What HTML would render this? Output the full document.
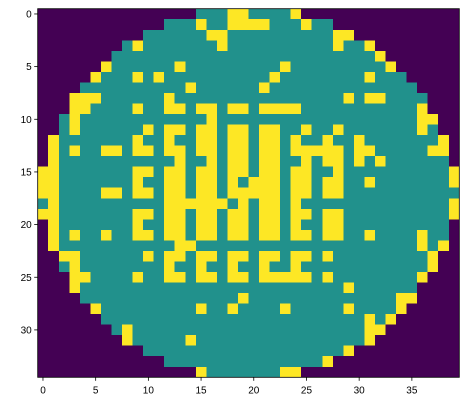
<!DOCTYPE html>
<html><head><meta charset="utf-8"><style>
html,body{margin:0;padding:0;background:#fff;}
svg{display:block;font-family:"Liberation Sans","DejaVu Sans",sans-serif;}
</style></head><body>
<svg id="chart" width="469" height="413" viewBox="0 0 469 413">
<g id="cells"></g>
<g id="axes"></g>
</svg>
<script>
// Row data as run-length pairs: value,count,...
const rowRuns = [
"0,15,1,3,2,2,1,4,2,1,0,15",
"0,12,1,3,2,1,1,2,2,4,1,3,2,1,1,2,0,12",
"0,10,1,6,2,2,1,10,2,2,0,10",
"0,8,1,1,2,1,1,7,2,1,1,10,2,1,1,2,2,1,0,8",
"0,7,1,25,2,1,0,7",
"0,6,2,1,1,6,2,1,1,9,2,1,1,9,2,1,0,6",
"0,5,2,1,1,3,2,1,1,1,2,1,1,10,2,1,1,8,2,1,1,3,0,5",
"0,4,1,10,2,1,1,6,2,1,1,14,0,4",
"0,3,2,3,1,6,2,1,1,16,2,1,1,1,2,2,1,4,0,3",
"0,3,2,2,1,4,2,1,1,2,2,2,1,1,2,2,1,1,2,2,1,1,2,4,1,11,2,1,0,3",
"0,2,1,1,2,1,1,12,2,1,1,19,2,2,0,2",
"0,2,1,1,2,1,1,6,2,1,1,1,2,2,1,1,2,2,1,1,2,2,1,1,2,2,1,2,2,1,1,2,2,1,1,7,2,1,1,1,0,2",
"0,1,2,1,1,7,2,1,1,2,2,1,1,2,2,2,1,1,2,2,1,1,2,2,1,1,2,1,1,2,2,1,1,2,2,1,1,7,2,1,0,1",
"0,1,2,1,1,1,2,1,1,2,2,2,1,1,2,2,1,1,2,2,1,1,2,2,1,1,2,2,1,1,2,2,1,1,2,5,1,1,2,2,1,5,2,2,0,1",
"0,1,2,1,1,11,2,1,1,2,2,1,1,1,2,2,1,1,2,2,1,2,2,1,1,1,2,2,1,1,2,1,1,1,2,1,1,6,0,1",
"2,2,1,7,2,2,1,1,2,2,1,1,2,2,1,1,2,2,1,1,2,2,1,1,2,2,1,2,2,1,1,10,2,1",
"2,2,1,7,2,1,1,2,2,2,1,1,2,2,1,1,2,1,1,1,2,3,1,1,2,2,1,1,2,2,1,2,2,1,1,7,2,1",
"2,2,1,4,2,2,1,1,2,2,1,1,2,2,1,1,2,2,1,1,2,2,2,3,1,1,2,2,1,1,2,2,1,11",
"1,1,2,1,1,10,2,6,1,1,2,1,1,1,2,2,1,1,2,1,1,14,2,1",
"2,2,1,7,2,2,1,1,2,2,1,1,2,2,1,1,2,2,1,1,2,2,1,1,2,2,1,1,2,2,1,10,2,1",
"0,1,2,1,1,7,2,1,1,2,2,2,1,1,2,2,1,1,2,2,1,1,2,2,1,1,2,1,1,2,2,2,1,10,0,1",
"0,1,2,1,1,1,2,1,1,2,2,1,1,2,2,2,1,1,2,2,1,1,2,2,1,1,2,2,1,1,2,2,1,1,2,2,1,1,2,2,1,2,2,1,1,4,2,1,1,2,0,1",
"0,1,2,1,1,11,2,2,1,21,2,1,1,1,2,1,0,1",
"0,2,2,2,1,6,2,1,1,1,2,2,1,1,2,2,1,1,2,2,1,1,2,2,1,1,2,2,1,1,2,1,1,9,2,1,0,2",
"0,2,1,1,2,1,1,8,2,1,1,2,2,1,1,2,2,1,1,2,2,1,1,2,2,1,1,12,2,1,0,2",
"0,3,2,2,1,4,2,1,1,2,2,2,1,1,2,2,1,1,2,2,1,1,2,5,1,1,2,1,1,8,2,1,0,3",
"0,3,2,1,1,25,2,1,1,6,0,4",
"0,4,1,15,2,1,1,14,2,2,0,4",
"0,5,2,1,1,9,2,1,1,2,2,1,1,4,2,1,1,5,2,1,1,4,2,1,0,5",
"0,6,1,25,2,1,1,1,2,1,0,6",
"0,7,1,1,2,1,1,22,2,2,0,7",
"0,8,2,1,1,5,2,1,1,16,2,1,0,8",
"0,10,1,19,2,1,0,10",
"0,12,1,15,2,1,0,12",
"0,15,2,1,1,7,2,2,0,15"
];
const xTicks = [0,5,10,15,20,25,30,35];
const yTicks = [0,5,10,15,20,25,30];
const palette = ["#440154","#21918c","#fde725"];

const grid = rowRuns.map(s => {
  const a = s.split(",").map(Number), r = [];
  for (let i = 0; i < a.length; i += 2) for (let k = 0; k < a[i+1]; k++) r.push(a[i]);
  return r;
});
const nRows = grid.length, nCols = 40;
const L = 37.7, T = 8.7, W = 421.6, H = 368.6;
const cw = W / nCols, ch = H / nRows;
const xs = c => L + c * cw;
const ys = r => T + r * ch;
const NS = "http://www.w3.org/2000/svg";
const cells = document.getElementById("cells");
grid.forEach((row, r) => row.forEach((v, c) => {
  const el = document.createElementNS(NS, "rect");
  el.setAttribute("x", xs(c)); el.setAttribute("y", ys(r));
  el.setAttribute("width", cw + 0.4); el.setAttribute("height", ch + 0.4);
  el.setAttribute("fill", palette[v]);
  el.setAttribute("shape-rendering", "crispEdges");
  
  
  cells.appendChild(el);
}));
const axes = document.getElementById("axes");
const frame = document.createElementNS(NS, "rect");
frame.setAttribute("x", L); frame.setAttribute("y", T);
frame.setAttribute("width", W); frame.setAttribute("height", H);
frame.setAttribute("fill", "none"); frame.setAttribute("stroke", "#000"); frame.setAttribute("stroke-width", "0.8");


axes.appendChild(frame);
xTicks.forEach(t => {
  const x = xs(t + 0.5);
  const ln = document.createElementNS(NS, "line");
  ln.setAttribute("x1", x); ln.setAttribute("x2", x);
  ln.setAttribute("y1", T + H); ln.setAttribute("y2", T + H + 3.5);
  ln.setAttribute("stroke", "#000"); ln.setAttribute("stroke-width", "0.8");
  
  
  axes.appendChild(ln);
  const tx = document.createElementNS(NS, "text");
  tx.setAttribute("x", x); tx.setAttribute("y", T + H + 16);
  tx.setAttribute("text-anchor", "middle"); tx.setAttribute("font-size", "10");
  tx.textContent = t;
  
  
  axes.appendChild(tx);
});
yTicks.forEach(t => {
  const y = ys(t + 0.5);
  const ln = document.createElementNS(NS, "line");
  ln.setAttribute("x1", L - 3.5); ln.setAttribute("x2", L);
  ln.setAttribute("y1", y); ln.setAttribute("y2", y);
  ln.setAttribute("stroke", "#000"); ln.setAttribute("stroke-width", "0.8");
  
  
  axes.appendChild(ln);
  const tx = document.createElementNS(NS, "text");
  tx.setAttribute("x", L - 6); tx.setAttribute("y", y + 3.6);
  tx.setAttribute("text-anchor", "end"); tx.setAttribute("font-size", "10");
  tx.textContent = t;
  
  
  axes.appendChild(tx);
});
</script>
</body></html>
